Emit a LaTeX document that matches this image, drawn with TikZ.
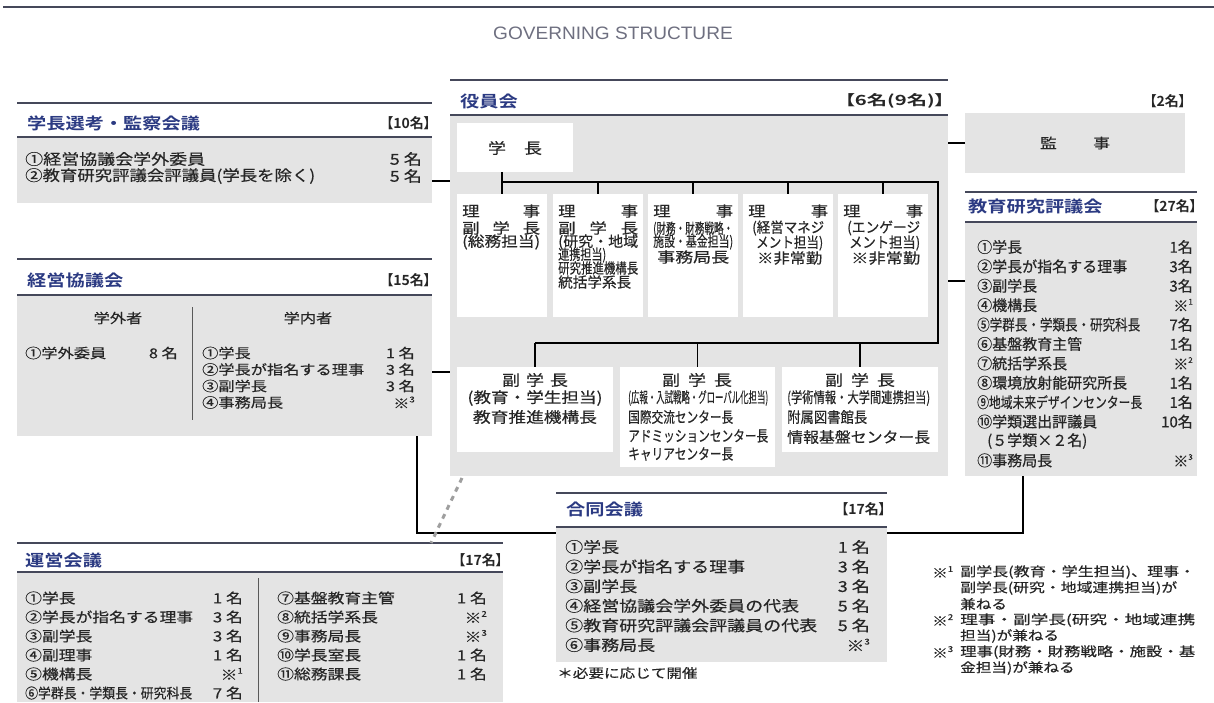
\documentclass[tikz,border=0pt]{standalone}
\usepackage{fontspec}
\usepackage{graphicx}
\setmainfont{Liberation Sans}
\newfontfamily\jn[FakeBold=0.4]{Noto Sans CJK JP}
\newfontfamily\jw[FakeStretch=1.2,FakeBold=0.4]{Noto Sans CJK JP}
\newfontfamily\jwb[FakeStretch=1.2]{Noto Sans CJK JP Bold}
\newfontfamily\jc[RawFeature=+palt]{Noto Sans CJK JP Bold}
\newcommand\fitto[2]{\resizebox{#1}{\height}{#2}}
\newcommand\kome[1]{※\raisebox{.45em}{\fontsize{8}{8}\selectfont #1}}
\newcommand\fs[1]{\fontsize{#1}{#1}\selectfont}
\definecolor{navy}{HTML}{2B3A82}
\definecolor{gfill}{HTML}{E4E4E4}
\definecolor{hline}{HTML}{45485A}
\definecolor{txt}{HTML}{262626}
\definecolor{ttl}{HTML}{6E6F80}
\tikzset{
 hl/.style={draw=hline, line width=1.5pt},
 panel/.style={fill=gfill, draw=none, anchor=north west, inner sep=0pt, outer sep=0pt},
 wbox/.style={fill=white, draw=none, anchor=north west, inner sep=0pt, outer sep=0pt},
 conn/.style={draw=black, line width=1.1pt},
 dashc/.style={draw=gray!75, line width=3pt, dash pattern=on 5pt off 5pt},
 divl/.style={draw=gray!70!black, line width=0.8pt},
 htitle/.style={font=\jwb\fs{16}, text=navy, inner sep=0pt, anchor=west},
 hcount/.style={font=\jc\fs{14}, text=txt, inner sep=0pt, anchor=east},
 txl/.style={text=txt, inner sep=0pt, anchor=west},
 txr/.style={text=txt, inner sep=0pt, anchor=east},
 txc/.style={text=txt, inner sep=0pt, anchor=center},
}
\begin{document}
\begin{tikzpicture}[x=1pt,y=-1pt]
\useasboundingbox (0,0) rectangle (1214,702);
\draw[line width=2.5pt, draw=hline] (3,7) -- (1214,7);
\node[font=\fs{18}, text=ttl, inner sep=0pt] (title) at (613,33) {\scalebox{1.06}[1]{GOVERNING STRUCTURE}};

% ---------- 学長選考・監察会議
\draw[hl] (17,103) -- (432,103);
\node[htitle] (t-senkou) at (27,123) {学長選考・監察会議};
\node[hcount] (c-senkou) at (431,123) {【10名】};
\node[panel, minimum width=415pt, minimum height=66pt] (senkou) at (17,137) {};
\draw[hl] (17,137) -- (432,137);
\node[txl, font=\jw\fs{15}] (s1) at (25,159) {①経営協議会学外委員};
\node[txr, font=\jw\fs{15}] (s1v) at (422,159) {5 名};
\node[txl, font=\jw\fs{15}] (s2) at (25,176) {\fitto{290pt}{②教育研究評議会評議員(学長を除く)}};
\node[txr, font=\jw\fs{15}] (s2v) at (422,176) {5 名};

% ---------- 経営協議会
\draw[hl] (17,259) -- (432,259);
\node[htitle] (t-keiei) at (27,280) {経営協議会};
\node[hcount] (c-keiei) at (431,280) {【15名】};
\node[panel, minimum width=415pt, minimum height=141pt] (keiei) at (17,295) {};
\draw[hl] (17,295) -- (432,295);
\draw[divl] (192,307) -- (192,420);
\node[txc, font=\jw\fs{13.5}] (k-out) at (118,318) {学外者};
\node[txc, font=\jw\fs{13.5}] (k-in) at (308,318) {学内者};
\node[txl, font=\jw\fs{13.5}] (ko1) at (25,353) {①学外委員};
\node[txr, font=\jw\fs{13.5}] (ko1v) at (178,353) {8 名};
\foreach \t/\v [count=\i] in {①学長/1 名, ②学長が指名する理事/3 名, ③副学長/3 名, ④事務局長/\kome{3}} {
  \node[txl, font=\jw\fs{13.5}] (ki\i) at (202,{353+16.5*(\i-1)}) {\t};
  \node[txr, font=\jw\fs{13.5}] (kiv\i) at (415,{353+16.5*(\i-1)}) {\v};
}

% ---------- 運営会議
\draw[hl] (17,543) -- (503,543);
\node[htitle] (t-unei) at (25,560) {運営会議};
\node[hcount] (c-unei) at (503,560) {【17名】};
\node[panel, minimum width=486pt, minimum height=130pt] (unei) at (17,572) {};
\draw[hl] (17,572) -- (503,572);
\draw[divl] (258,578) -- (258,702);
\foreach \t/\v [count=\i] in {①学長/1 名, ②学長が指名する理事/3 名, ③副学長/3 名, ④副理事/1 名, ⑤機構長/\kome{1}, \fitto{167pt}{⑥学群長・学類長・研究科長}/7 名} {
  \node[txl, font=\jw\fs{14}] (ul\i) at (25,{598+19*(\i-1)}) {\t};
  \node[txr, font=\jw\fs{14}] (ulv\i) at (243,{598+19*(\i-1)}) {\v};
}
\foreach \t/\v [count=\i] in {⑦基盤教育主管/1 名, ⑧統括学系長/\kome{2}, ⑨事務局長/\kome{3}, ⑩学長室長/1 名, ⑪総務課長/1 名} {
  \node[txl, font=\jw\fs{14}] (ur\i) at (277,{598+19*(\i-1)}) {\t};
  \node[txr, font=\jw\fs{14}] (urv\i) at (487,{598+19*(\i-1)}) {\v};
}
\coordinate (ueTop) at (431,543);

% ---------- 役員会
\draw[hl] (450,80) -- (948,80);
\node[htitle] (t-yakuin) at (460,101) {役員会};
\node[hcount] (c-yakuin) at (945,101) {\fitto{100pt}{【6名(9名)】}};
\node[panel, minimum width=498pt, minimum height=361pt] (yakuin) at (450,115) {};
\draw[hl] (450,115) -- (948,115);
\node[wbox, minimum width=116pt, minimum height=49pt] (gk) at (457,123) {};
\node[txc, font=\jw\fs{15}] (gk-t) at (515,148) {\hbox to 54pt{学\hfil 長}};
\foreach \n/\x in {r1/457, r2/553, r3/648, r4/743, r5/838}
  \node[wbox, minimum width=90pt, minimum height=123pt] (\n) at (\x,194) {};
\node[wbox, minimum width=156pt, minimum height=85pt] (fa) at (457,367) {};
\node[wbox, minimum width=155pt, minimum height=100pt] (fb) at (620,367) {};
\node[wbox, minimum width=156pt, minimum height=85pt] (fc) at (782,367) {};

\begin{scope}[every node/.style={txl, font=\jw\fs{14.5}}]
% box 1
\node (r1a) at (462,211) {\hbox to 78pt{理\hfil 事}};
\node (r1b) at (462,228) {\hbox to 78pt{副\hfil 学\hfil 長}};
\node (r1c) at (462,242) {\fitto{78pt}{(総務担当)}};
% box 2
\node (r2a) at (558,211) {\hbox to 80pt{理\hfil 事}};
\node (r2b) at (558,228) {\hbox to 80pt{副\hfil 学\hfil 長}};
\node (r2c) at (558,242) {\fitto{80pt}{(研究・地域}};
\node (r2d) at (558,255) {\fitto{48pt}{連携担当)}};
\node (r2e) at (558,268) {\fitto{80pt}{研究推進機構長}};
\node (r2f) at (558,282) {\fitto{73pt}{統括学系長}};
% box 3
\node (r3a) at (653,211) {\hbox to 80pt{理\hfil 事}};
\node (r3b) at (653,229) {\fitto{80pt}{(財務・財務戦略・}};
\node (r3c) at (653,242) {\fitto{80pt}{施設・基金担当)}};
\node (r3d) at (657,257) {\fitto{72pt}{事務局長}};
% box 4
\node (r4a) at (748,211) {\hbox to 80pt{理\hfil 事}};
\node (r4b) at (752,228) {\fitto{72pt}{(経営マネジ}};
\node (r4c) at (756,243) {\fitto{67pt}{メント担当)}};
\node (r4d) at (757,258) {\fitto{65pt}{※非常勤}};
% box 5
\node (r5a) at (843,211) {\hbox to 80pt{理\hfil 事}};
\node (r5b) at (847,228) {\fitto{73pt}{(エンゲージ}};
\node (r5c) at (849,243) {\fitto{71pt}{メント担当)}};
\node (r5d) at (851,258) {\fitto{69pt}{※非常勤}};
\end{scope}

\begin{scope}[every node/.style={txl, font=\jw\fs{15}}]
\node[txc] (fa1) at (535,380) {\hbox to 66pt{副\hfil 学\hfil 長}};
\node[txc] (fa2) at (535,398) {\fitto{135pt}{(教育・学生担当)}};
\node[txc] (fa3) at (535,417) {\fitto{124pt}{教育推進機構長}};
\node[txc] (fb1) at (697,380) {\hbox to 70pt{副\hfil 学\hfil 長}};
\node (fb2) at (628,398) {\fitto{140pt}{(広報・入試戦略・グローバル化担当)}};
\node (fb3) at (628,417) {\fitto{105pt}{国際交流センター長}};
\node (fb4) at (628,436) {\fitto{140pt}{アドミッションセンター長}};
\node (fb5) at (628,454) {\fitto{105pt}{キャリアセンター長}};
\node[txc] (fc1) at (860,380) {\hbox to 70pt{副\hfil 学\hfil 長}};
\node (fc2) at (787,398) {\fitto{143pt}{(学術情報・大学間連携担当)}};
\node (fc3) at (787,417) {\fitto{80pt}{附属図書館長}};
\node (fc4) at (787,437) {\fitto{143pt}{情報基盤センター長}};
\end{scope}

\coordinate (bus1) at (938,182);
\coordinate (bus2) at (938,343);
\draw[conn] (r1.north |- gk.south) -- (r1.north);
\draw[conn] (r1.north |- bus1) -- (bus1) -- (bus2) -- (fa.north |- bus2);
\foreach \n in {r2,r3,r4,r5} \draw[conn] (\n.north |- bus1) -- (\n.north);
\foreach \n in {fa,fb,fc} \draw[conn] (\n.north |- bus2) -- (\n.north);

% ---------- 監事
\node[hcount] (c-kanji) at (1186,101) {【2名】};
\node[panel, minimum width=220pt, minimum height=60pt] (kanji) at (965,113) {};
\node[txc, font=\jw\fs{14}] (kanji-t) at (kanji.center) {\hbox to 70pt{監\hfil 事}};

% ---------- 教育研究評議会
\draw[hl] (965,192) -- (1197,192);
\node[htitle] (t-kyoiku) at (968,206) {教育研究評議会};
\node[hcount] (c-kyoiku) at (1197,206) {【27名】};
\node[panel, minimum width=232pt, minimum height=254pt] (kyoiku) at (965,222) {};
\draw[hl] (965,222) -- (1197,222);
\foreach \t/\v [count=\i] in {①学長/1名, ②学長が指名する理事/3名, ③副学長/3名, ④機構長/\kome{1}, \fitto{163pt}{⑤学群長・学類長・研究科長}/7名, ⑥基盤教育主管/1名, ⑦統括学系長/\kome{2}, ⑧環境放射能研究所長/1名, \fitto{165pt}{⑨地域未来デザインセンター長}/1名, ⑩学類選出評議員/10名, \hspace*{10pt}(５学類×２名)/{}, ⑪事務局長/\kome{3}} {
  \node[txl, font=\jn\fs{15}] (e\i) at (977,{247+19.4*(\i-1)}) {\t};
  \node[txr, font=\jn\fs{15}] (ev\i) at (1193,{247+19.4*(\i-1)}) {\v};
}

% ---------- 合同会議
\draw[hl] (556,493) -- (887,493);
\node[htitle] (t-godo) at (566,509) {合同会議};
\node[hcount] (c-godo) at (886,509) {【17名】};
\node[panel, minimum width=331pt, minimum height=135pt] (godo) at (556,527) {};
\draw[hl] (556,527) -- (887,527);
\foreach \t/\v [count=\i] in {①学長/1 名, ②学長が指名する理事/3 名, ③副学長/3 名, ④経営協議会学外委員の代表/5 名, ⑤教育研究評議会評議員の代表/5 名, ⑥事務局長/\kome{3}} {
  \node[txl, font=\jw\fs{15}] (g\i) at (565,{547+19.6*(\i-1)}) {\t};
  \node[txr, font=\jw\fs{15}] (gv\i) at (870,{547+19.6*(\i-1)}) {\v};
}
\node[txl, font=\jw\fs{13}] (g-note) at (557,673) {＊必要に応じて開催};

% ---------- notes
\begin{scope}[every node/.style={txl, font=\jw\fs{13}}]
\node (n1k) at (932,572) {\kome{1}};
\node (n1a) at (960,572) {\fitto{235pt}{副学長(教育・学生担当)、理事・}};
\node (n1b) at (960,588) {\fitto{217pt}{副学長(研究・地域連携担当)が}};
\node (n1c) at (960,604) {兼ねる};
\node (n2k) at (932,620) {\kome{2}};
\node (n2a) at (960,620) {\fitto{235pt}{理事・副学長(研究・地域連携}};
\node (n2b) at (960,636) {担当)が兼ねる};
\node (n3k) at (932,652) {\kome{3}};
\node (n3a) at (960,652) {\fitto{235pt}{理事(財務・財務戦略・施設・基}};
\node (n3b) at (960,668) {金担当)が兼ねる};
\end{scope}

% ---------- connectors
\draw[conn] ([yshift=-11pt]senkou.east) -- ([yshift=-11pt]senkou.east -| yakuin.west);
\draw[conn] ([yshift=-6.5pt]keiei.east) -- ([yshift=-6.5pt]keiei.east -| yakuin.west);
\draw[conn] (kanji.west) -- (kanji.west -| yakuin.east);
\draw[conn] ([yshift=68pt]kyoiku.west) -- ([yshift=68pt]kyoiku.west -| yakuin.east);
\draw[conn] ([xshift=-15pt]keiei.south east) |- ([yshift=-6pt]godo.north west);
\draw[conn] ([xshift=-174pt]kyoiku.south east) |- ([yshift=-6pt]godo.north east);
\draw[dashc] ([xshift=12pt,yshift=-2pt]yakuin.south west) -- (ueTop);
\end{tikzpicture}
\end{document}
